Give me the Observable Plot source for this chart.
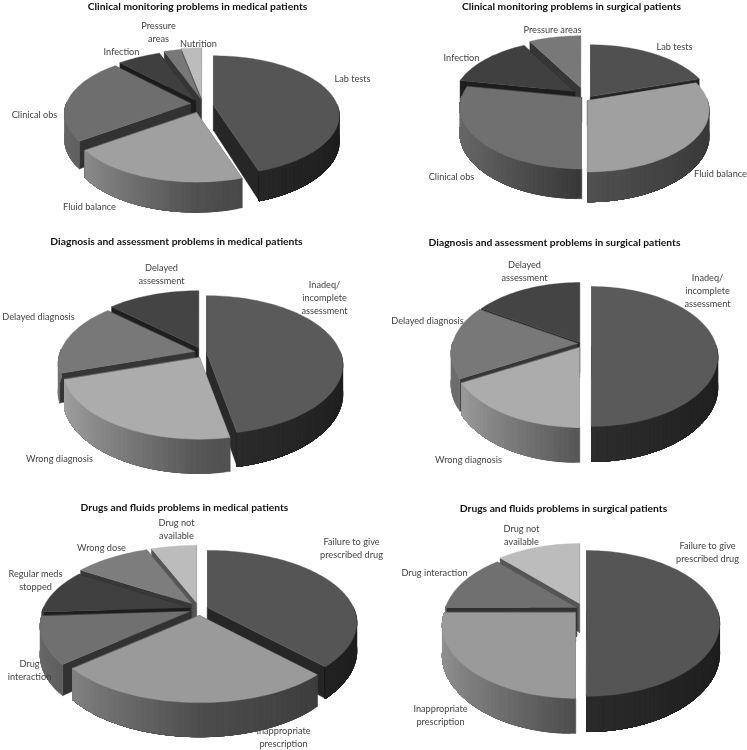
<!DOCTYPE html>
<html>
<head>
<meta charset="utf-8">
<script src="https://cdn.jsdelivr.net/npm/d3@7"></script>
<script src="https://cdn.jsdelivr.net/npm/@observablehq/plot@0.6"></script>
<style>
html,body{margin:0;padding:0;background:#fff;overflow:hidden}
svg{display:block;filter:blur(.35px)}
</style>
</head>
<body>
<div id="chart"></div>
<script>
// ---- data (percent of problems) ----
const clinicalCategoriesMedical = ["Lab tests","Fluid balance","Clinical obs","Infection","Pressure\nareas","Nutrition"];
const clinicalValuesMedical = [45,20,23,6.5,2.5,3];
const clinicalCategoriesSurgical = ["Lab tests","Fluid balance","Clinical obs","Infection","Pressure areas"];
const clinicalValuesSurgical = [20,30,28,14,8];
const diagnosisCategoriesMedical = ["Inadeq/\nincomplete\nassessment","Wrong diagnosis","Delayed diagnosis","Delayed\nassessment"];
const diagnosisValuesMedical = [47,23,17,13];
const diagnosisCategoriesSurgical = ["Inadeq/\nincomplete\nassessment","Wrong diagnosis","Delayed diagnosis","Delayed\nassessment"];
const diagnosisValuesSurgical = [50,17,17,16];
const drugsCategoriesMedical = ["Failure to give\nprescribed drug","Inappropriate\nprescription","Drug\ninteraction","Regular meds\nstopped","Wrong dose","Drug not\navailable"];
const drugsValuesMedical = [38,25.5,10.5,10,10,6];
const drugsCategoriesSurgical = ["Failure to give\nprescribed drug","Inappropriate\nprescription","Drug interaction","Drug not\navailable"];
const drugsValuesSurgical = [50,25,13,12];

// ---- layout ----
const pies = [
 {title:"Clinical monitoring problems in medical patients",titleAt:[197,6],cats:clinicalCategoriesMedical,vals:clinicalValuesMedical,
  rx:124,ry:58,p:.167,d:25,
  apex:[[213,105],[196,112],[190,103],[195,100],[200,98],[201,97]],
  greys:[85,160,110,63,120,188],
  labelAt:[[352,77],[89,205],[34,113],[121,50],[158,31],[198,42]]},
 {title:"Clinical monitoring problems in surgical patients",titleAt:[571,6],cats:clinicalCategoriesSurgical,vals:clinicalValuesSurgical,
  rx:120,ry:60,p:.16,d:25,
  apex:[[590,96],[587,100],[581,97],[574,91],[580,87]],
  greys:[80,160,112,64,120],
  labelAt:[[674,45],[720,172],[451,175],[461,56],[552,28]]},
 {title:"Diagnosis and assessment problems in medical patients",titleAt:[176,241],cats:diagnosisCategoriesMedical,vals:diagnosisValuesMedical,
  rx:134,ry:67,p:.18,d:28,
  apex:[[206,352],[199,357],[194,351],[198,347]],
  greys:[90,172,120,68],
  labelAt:[[324,296],[59,457],[38,315],[161,273]]},
 {title:"Diagnosis and assessment problems in surgical patients",titleAt:[554,242],cats:diagnosisCategoriesSurgical,vals:diagnosisValuesSurgical,
  rx:125,ry:68.5,p:.143,d:30,
  apex:[[591,346],[579,347],[577,343],[579,342]],
  greys:[90,172,120,68],
  labelAt:[[707,289],[468,458],[427,319],[524,270]]},
 {title:"Drugs and fluids problems in medical patients",titleAt:[184,507],cats:drugsCategoriesMedical,vals:drugsValuesMedical,
  rx:146,ry:69,p:.208,d:27,
  apex:[[207,607],[199,615],[189,611],[189,607],[191,603],[196,602]],
  greys:[85,154,112,64,125,188],
  labelAt:[[351,547],[283,736],[29,669],[35,579],[101,546],[176,528]]},
 {title:"Drugs and fluids problems in surgical patients",titleAt:[563,508],cats:drugsCategoriesSurgical,vals:drugsValuesSurgical,
  rx:131,ry:70.6,p:.177,d:29,
  apex:[[586,610],[575,612],[576,607],[579,603]],
  greys:[85,154,112,188],
  labelAt:[[707,551],[440,714],[434,571],[521,534]]}
];

const grey = (g,f)=>{const c=Math.round(g*f);return `rgb(${c},${c},${c})`;};
const wallShade = u => u<0 ? .95+(.5-.95)*(u+1) : .5+(.35-.5)*u;

// ---- build polygons from values; every point goes through Plot's x and y scales ----
const polys=[]; const labels=[]; const titles=[];
let id=0;
function add(pts,c){const k=id++;for(const [x,y] of pts)polys.push({k,x,y,c});}
pies.forEach(P=>{
  titles.push({t:P.title,x:P.titleAt[0],y:P.titleAt[1]});
  const arcs=d3.pie().sort(null).value(d=>d)(P.vals);
  const slices=arcs.map((a,i)=>({a0:a.startAngle,a1:a.endAngle,i,mid:(a.startAngle+a.endAngle)/2}));
  const order=slices.slice().sort((A,B)=>Math.cos(B.mid)-Math.cos(A.mid));
  order.forEach(S=>{
    const [ax,ay]=P.apex[S.i], g=P.greys[S.i];
    const pr=(u,v,z)=>{const s=1/(1+P.p*v);return [ax+P.rx*u*s,ay-P.ry*v*s+z*P.d*s];};
    const at=(t,z)=>pr(Math.sin(t),Math.cos(t),z);
    // radial walls
    for(const t of [S.a0,S.a1]){
      add([pr(0,0,0),at(t,0),at(t,1),pr(0,0,1)],grey(g,.45));
    }
    // outer wall: each strip runs on to the end of the visible wall, so that no seams show
    const n=Math.max(2,Math.ceil((S.a1-S.a0)/(Math.PI/90)));
    const ts=d3.range(n+1).map(j=>S.a0+(S.a1-S.a0)*j/n).filter(t=>Math.cos(t)<.04);
    for(let j=0;j<ts.length-1;j++){
      const rest=ts.slice(j);
      add([...rest.map(t=>at(t,0)),...rest.slice().reverse().map(t=>at(t,1))],grey(g,wallShade(Math.sin((ts[j]+ts[j+1])/2))));
    }
    // top face
    const top=[pr(0,0,0)];
    for(let j=0;j<=n;j++)top.push(at(S.a0+(S.a1-S.a0)*j/n,0));
    add(top,grey(g,1));
  });
  P.cats.forEach((t,i)=>labels.push({t,x:P.labelAt[i][0],y:P.labelAt[i][1]}));
});

const font="Lato, 'Open Sans', sans-serif";
const chart=Plot.plot({
  width:747,height:750,margin:0,
  style:{background:"#fff"},
  x:{domain:[0,747],range:[0,747],axis:null},
  y:{domain:[0,750],range:[0,750],axis:null},
  color:{type:"identity"},
  marks:[
    Plot.line(polys,{x:"x",y:"y",z:"k",fill:"c",stroke:"c",strokeWidth:.4,curve:"linear-closed"}),
    Plot.text(labels,{x:"x",y:"y",text:"t",fontFamily:font,fontSize:9.2,fill:"#444",lineHeight:1.4}),
    Plot.text(titles,{x:"x",y:"y",text:"t",fontFamily:font,fontSize:10.3,fontWeight:"bold",fill:"#111"})
  ]
});
document.getElementById("chart").appendChild(chart);
</script>
</body>
</html>
